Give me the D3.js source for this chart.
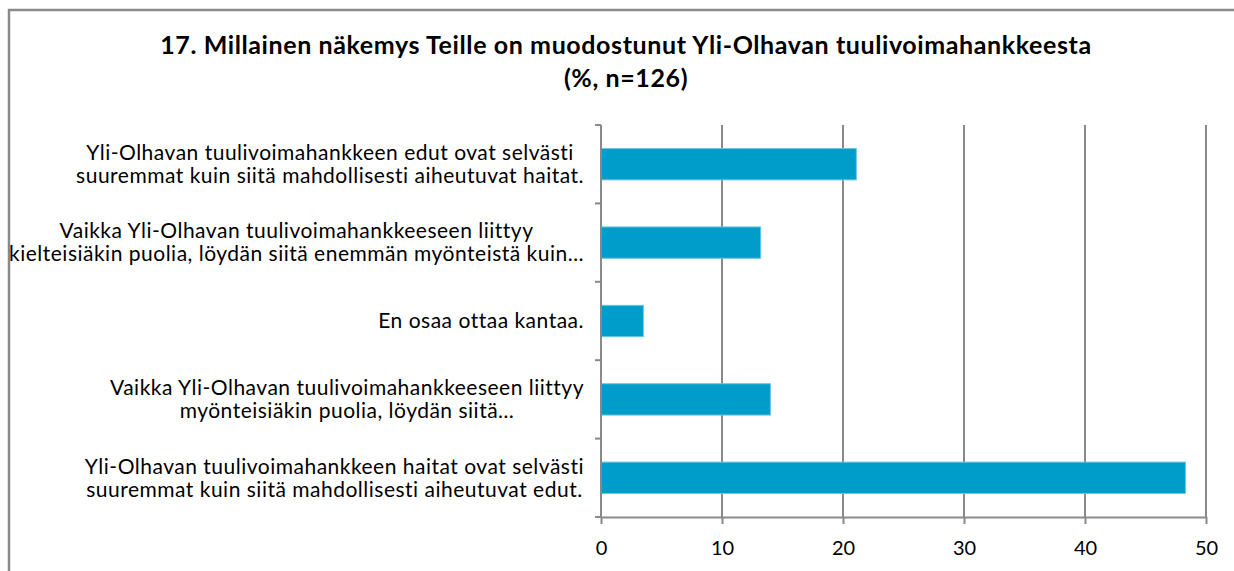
<!DOCTYPE html>
<html>
<head>
<meta charset="utf-8">
<script src="https://cdn.jsdelivr.net/npm/d3@7"></script>
<style>
body { margin: 0; background: #fff; }
text { font-family: Lato, "Open Sans", sans-serif; fill: #000; }
</style>
</head>
<body>
<div id="chart"></div>
<script>
// data
var categories = [
  ["Yli-Olhavan tuulivoimahankkeen edut ovat selvästi", "suuremmat kuin siitä mahdollisesti aiheutuvat haitat."],
  ["Vaikka Yli-Olhavan tuulivoimahankkeeseen liittyy", "kielteisiäkin puolia, löydän siitä enemmän myönteistä kuin…"],
  ["En osaa ottaa kantaa."],
  ["Vaikka Yli-Olhavan tuulivoimahankkeeseen liittyy", "myönteisiäkin puolia, löydän siitä…"],
  ["Yli-Olhavan tuulivoimahankkeen haitat ovat selvästi", "suuremmat kuin siitä mahdollisesti aiheutuvat edut."]
];
var values = [21.1, 13.2, 3.5, 14.0, 48.3];
var xTicks = [0, 10, 20, 30, 40, 50];
var titleLines = ["17. Millainen näkemys Teille on muodostunut Yli-Olhavan tuulivoimahankkeesta", "(%, n=126)"];

var W = 1234, H = 571;
var margin = { top: 125, right: 28, bottom: 54, left: 601 };
var width = W - margin.left - margin.right;
var height = H - margin.top - margin.bottom;

var svg = d3.select("#chart").append("svg")
  .attr("width", W)
  .attr("height", H);

// outer frame (only top and left edges visible)
svg.append("path")
  .attr("d", "M9,571 V10 H1234")
  .attr("fill", "none")
  .attr("stroke", "#8a8a8a")
  .attr("stroke-width", 2.5);

svg.selectAll("text.title")
  .data(titleLines)
  .enter().append("text")
  .attr("class", "title")
  .attr("x", 626)
  .attr("y", function (d, i) { return 54 + i * 33; })
  .attr("text-anchor", "middle")
  .attr("font-weight", "bold")
  .attr("font-size", 25)
  .attr("letter-spacing", 0.6)
  .text(function (d) { return d; });

var g = svg.append("g")
  .attr("transform", "translate(" + margin.left + "," + margin.top + ")");

var x = d3.scaleLinear().domain([0, 50]).range([0, width]);
var y = d3.scaleBand().domain(d3.range(categories.length)).range([0, height]).paddingInner(0.6).paddingOuter(0.3);

// gridlines
g.selectAll("line.grid")
  .data(xTicks.slice(1))
  .enter().append("line")
  .attr("class", "grid")
  .attr("x1", function (d) { return x(d); })
  .attr("x2", function (d) { return x(d); })
  .attr("y1", 0)
  .attr("y2", height)
  .attr("stroke", "#898989")
  .attr("stroke-width", 2);

g.selectAll("rect.bar")
  .data(values)
  .enter().append("rect")
  .attr("class", "bar")
  .attr("x", x(0))
  .attr("y", function (d, i) { return y(i); })
  .attr("width", function (d) { return x(d) - x(0); })
  .attr("height", y.bandwidth())
  .attr("fill", "#009cca")
  .attr("stroke", "#6cc6e4")
  .attr("stroke-width", 1);

// x axis
var xAxis = g.append("g")
  .attr("transform", "translate(0," + height + ")")
  .call(d3.axisBottom(x).tickValues(xTicks).tickSize(7).tickSizeOuter(0).tickPadding(17));
xAxis.select(".domain").attr("stroke", "#898989").attr("stroke-width", 2);
xAxis.selectAll(".tick line").attr("stroke", "#898989").attr("stroke-width", 2);
xAxis.selectAll(".tick text").attr("font-size", 20).attr("font-family", "Lato").attr("fill", "#000");

// y axis: ticks at band boundaries
var step = height / categories.length;
var bounds = d3.range(categories.length + 1).map(function (i) { return i * step; });
g.append("line")
  .attr("x1", 0).attr("x2", 0).attr("y1", 0).attr("y2", height)
  .attr("stroke", "#898989").attr("stroke-width", 2);
g.selectAll("line.ytick")
  .data(bounds)
  .enter().append("line")
  .attr("class", "ytick")
  .attr("x1", -6).attr("x2", 0)
  .attr("y1", function (d) { return d; })
  .attr("y2", function (d) { return d; })
  .attr("stroke", "#898989").attr("stroke-width", 2);

// category labels: block right-aligned to the axis, lines centred in block
var lineH = 23;
categories.forEach(function (lines, i) {
  var cy = y(i) + y.bandwidth() / 2;
  var lab = g.append("g");
  var texts = lab.selectAll("text")
    .data(lines)
    .enter().append("text")
    .attr("font-size", 21)
    .attr("letter-spacing", 0.5)
    .attr("text-anchor", "middle")
    .attr("dy", "0.35em")
    .attr("y", function (d, j) { return cy + (j - (lines.length - 1) / 2) * lineH; })
    .text(function (d) { return d; });
  var maxW = d3.max(texts.nodes(), function (n) { return n.getComputedTextLength(); });
  texts.attr("x", -17 - maxW / 2);
});
</script>
</body>
</html>
